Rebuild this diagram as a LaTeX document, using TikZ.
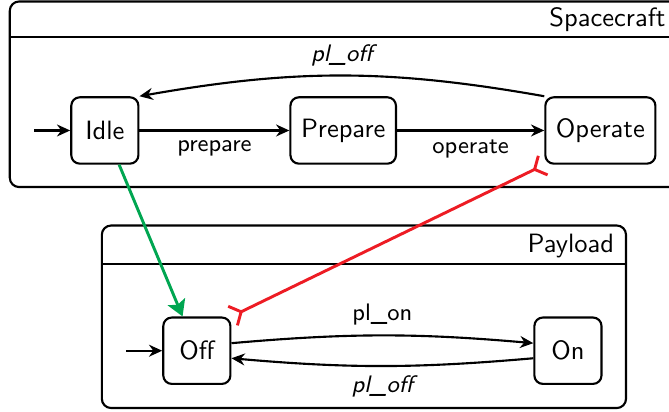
\documentclass[tikz,border=0pt]{standalone}
\usepackage{tikz}
\usetikzlibrary{positioning,arrows.meta,calc}
\usepackage{xcolor}
\renewcommand{\familydefault}{\sfdefault}

\definecolor{trigger}{RGB}{0,166,81}
\definecolor{inhibit}{RGB}{237,28,36}

\begin{document}
\begin{tikzpicture}[>={Stealth[length=5pt, width=4.5pt]},
    state/.style={draw, thick, rounded corners=3.2pt, minimum width=0.89cm, minimum height=0.88cm, inner xsep=4pt},
    region/.style={draw, thick, rounded corners=3.5pt},
    trans/.style={->, thick},
    lbl/.style={font=\small},
    ilbl/.style={font=\small\itshape},
    fork/.tip={Straight Barb[reversed, length=3.5pt, width=8pt]}]
    \useasboundingbox (0,0) rectangle (8.87,5.46);

    % Spacecraft region
    \draw[region] (0.13,2.98) rectangle (9.3,5.44);
    \draw[thick] (0.13,4.97) -- (9.3,4.97);
    \node[anchor=base east, inner sep=0pt] (scname) at (8.83,5.11) {Spacecraft};

    % Spacecraft states
    \node[state] (idle) at (1.39,3.73) {Idle};
    \node[state] (prep) at (4.55,3.73) {Prepare};
    \node[state] (oper) at (7.96,3.73) {Operate};
    \coordinate[left=0.48cm of idle.west] (idlein);

    \draw[trans] (idlein) -- (idle);
    \draw[trans] (idle) -- node[below, lbl] {prepare} (prep);
    \draw[trans] (prep) -- node[below, lbl] {operate} (oper);
    \draw[trans] (oper.north west) to[bend right=10] node[above, ilbl] {pl\_off} (idle.north east);

    % Payload region
    \draw[region] (1.35,0.05) rectangle (8.30,2.47);
    \draw[thick] (1.35,1.96) -- (8.30,1.96);
    \node[anchor=base east, inner sep=0pt] (plname) at (8.15,2.11) {Payload};

    % Payload states
    \node[state] (off) at (2.61,0.81) {Off};
    \node[state] (on) at (7.53,0.81) {On};
    \coordinate[left=0.48cm of off.west] (offin);

    \draw[trans] (offin) -- (off);
    \draw[trans] ([yshift=0.1cm]off.east) to[bend left=5] node[above, lbl] {pl\_on} ([yshift=0.1cm]on.west);
    \draw[trans] ([yshift=-0.1cm]on.west) to[bend left=5] node[below, ilbl] {pl\_off} ([yshift=-0.1cm]off.east);

    % Links between the regions
    \draw[->, >={Stealth[length=6pt, width=7pt, inset=1.2pt]}, line width=1.1pt, trigger] (idle) -- (off);
    \draw[{fork}-{fork}, line width=1.1pt, inhibit] (off.north east) -- (oper.south west);
\end{tikzpicture}
\end{document}
